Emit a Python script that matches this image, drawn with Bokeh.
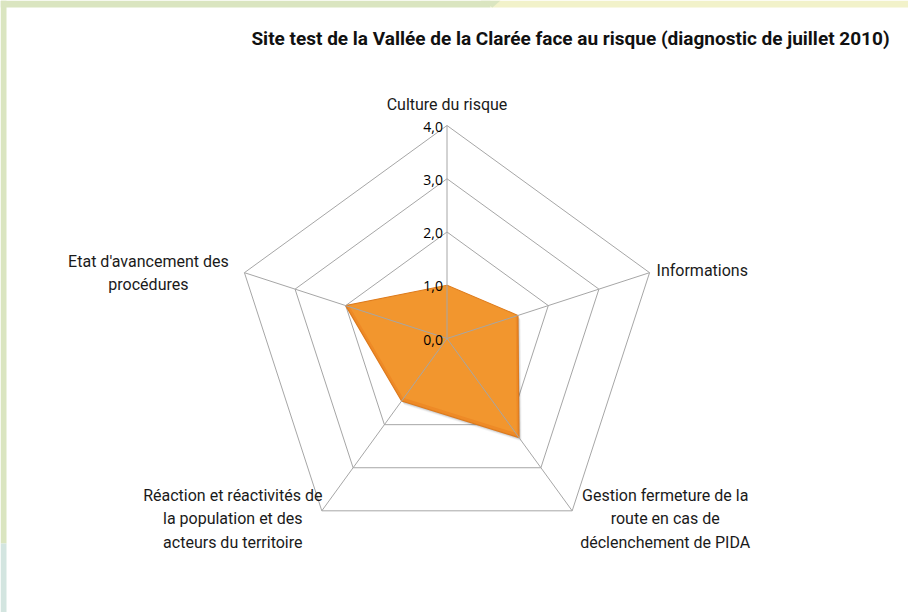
import numpy as np
from bokeh.plotting import figure
from bokeh.models import Range1d
from bokeh.core.properties import value
from bokeh.embed import file_html
from bokeh.resources import INLINE

title = "Site test de la Vallée de la Clarée face au risque (diagnostic de juillet 2010)"
categories = [
    "Culture du risque",
    "Informations",
    "Gestion fermeture de la\nroute en cas de\ndéclenchement de PIDA",
    "Réaction et réactivités de\nla population et des\nacteurs du territoire",
    "Etat d'avancement des\nprocédures",
]
values = [1.0, 1.4, 2.3, 1.45, 2.0]
ticks = [0, 1, 2, 3, 4]
tick_labels = ["0,0", "1,0", "2,0", "3,0", "4,0"]
rmax = 4

# layout: pixels per unit and chart centre in pixels
W, H = 908, 612
S = 53.25
CX, CY = 446.5, 338.0

def px(xp, yp):
    return (xp - CX) / S, (CY - yp) / S

n = len(categories)
ang = np.pi / 2 - np.arange(n) * 2 * np.pi / n

p = figure(width=W, height=H, output_backend="svg", toolbar_location=None,
           x_range=Range1d((0 - CX) / S, (W - CX) / S),
           y_range=Range1d((CY - H) / S, CY / S),
           min_border=0, outline_line_color=None)
p.axis.visible = False
p.grid.visible = False
p.background_fill_color = "white"
p.border_fill_color = "white"

# background frame strips
green, yellow, blue = "#DAE5C0", "#F2F2CA", "#D3E5E0"
x0, y0 = px(0, 0)
x1, y1 = px(W, H)
p.quad(left=x0, right=px(490, 0)[0], top=y0, bottom=px(0, 7)[1], fill_color=green, line_color=None)
p.quad(left=px(490, 0)[0], right=x1, top=y0, bottom=px(0, 7)[1], fill_color=yellow, line_color=None)
p.patch([px(480, 0)[0], px(500, 0)[0], px(492, 7)[0]], [y0, y0, px(0, 7)[1]], fill_color=green, line_color=None)
p.quad(left=x0, right=px(6, 0)[0], top=y0, bottom=px(0, 543)[1], fill_color=green, line_color=None)
p.quad(left=x0, right=px(6, 0)[0], top=px(0, 543)[1], bottom=y1, fill_color=blue, line_color=None)

grid_col = "#A6A6A6"
# rings
for t in ticks[1:]:
    xs = list(t * np.cos(ang)) + [t * np.cos(ang[0])]
    ys = list(t * np.sin(ang)) + [t * np.sin(ang[0])]
    p.line(xs, ys, line_color=grid_col, line_width=1)

# series polygon with soft shadow
v = np.array(values)
sx = v * np.cos(ang)
sy = v * np.sin(ang)
for k, a in enumerate([0.04, 0.06, 0.08, 0.10]):
    off = (4 - k) / S
    p.patch(list(sx + off * 0.7), list(sy - off), fill_color="#000000", fill_alpha=a, line_color=None)
p.patch(list(sx), list(sy), fill_color="#EE8A26", line_color="#DD7A1C", line_width=1.2)
# lighter upper tint to suggest the gradient
p.patch(list(sx * 0.97), list(sy * 0.97 + 0.025), fill_color="#F8A83C", fill_alpha=0.4, line_color=None)

# spokes on top
for a in ang:
    p.line([0, rmax * np.cos(a)], [0, rmax * np.sin(a)], line_color=grid_col, line_width=1)

# tick labels
p.text(x=[0] * len(ticks), y=ticks, text=tick_labels, text_align="right", text_baseline="middle",
       x_offset=-4, y_offset=1, text_font=value("Open Sans"), text_font_size="14px", text_color="#000000")

# category labels
lx = rmax * np.cos(ang)
ly = rmax * np.sin(ang)
xoff = [0, 7, 93, -89, -96]
yoff = [-21, -2, 8, 8, 0]
aligns = ["center", "left", "center", "center", "center"]
for i in range(n):
    p.text(x=[lx[i]], y=[ly[i]], text=[categories[i]], text_align=aligns[i], text_baseline="middle",
           x_offset=xoff[i], y_offset=yoff[i], text_font=value("Roboto"),
           text_font_size="16px", text_color="#1a1a1a", text_line_height=1.22)

# title
tx, ty = px(570, 38)
p.text(x=[tx], y=[ty], text=[title], text_align="center", text_baseline="middle",
       text_font=value("Roboto"), text_font_style="bold", text_font_size="19px",
       text_color="#111111")

open("out.html", "w").write(file_html(p, INLINE))
